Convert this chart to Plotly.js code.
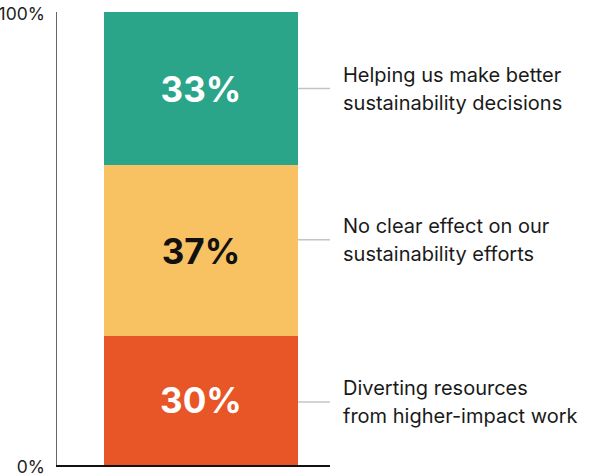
<!DOCTYPE html>
<html>
<head>
<meta charset="utf-8">
<script src="https://cdn.plot.ly/plotly-3.0.1.min.js"></script>
<style>html,body{margin:0;padding:0;background:#fff;}#chart{width:593px;height:476px;}</style>
</head>
<body>
<div id="chart"></div>
<script>
// Segments, bottom to top
const categories = ["Diverting resources from higher-impact work", "No clear effect on our sustainability efforts", "Helping us make better sustainability decisions"];
const values = [28.5, 37.7, 33.8];
const valueLabels = ["30%", "37%", "33%"];
const calloutLines = [["Diverting resources", "from higher-impact work"], ["No clear effect on our", "sustainability efforts"], ["Helping us make better", "sustainability decisions"]];
const calloutY = [13.9, 49.7, 83.1];
const colors = ["#e85627", "#f8c162", "#2ba58a"];
const textColors = ["#ffffff", "#111111", "#ffffff"];
const yTickVals = [0, 100];
const yTickText = ["0%", "100%"];

const FONT = "Inter, 'Noto Sans', sans-serif";
const xRange = [-0.742, 0.665];

const traces = values.map((v, i) => ({
  type: "bar",
  x: [0],
  y: [v],
  width: 1,
  name: categories[i],
  marker: {color: colors[i], line: {width: 0}},
  text: [valueLabels[i]],
  textposition: "inside",
  insidetextanchor: "middle",
  textangle: 0,
  textfont: {family: FONT, size: 35, color: textColors[i], weight: 700},
  hoverinfo: "skip"
}));

const shapes = calloutY.map(y => ({
  type: "line", xref: "x", yref: "y",
  x0: 0.5, x1: xRange[1], y0: y, y1: y,
  line: {color: "#c4c4c4", width: 1.5}
}));

const annotations = [];
calloutLines.forEach((lines, i) => {
  lines.forEach((t, j) => {
    annotations.push({
      xref: "paper", yref: "y", x: 1.04, y: calloutY[i],
      xanchor: "left", yanchor: "middle",
      yshift: ((lines.length - 1) / 2 - j) * 28,
      text: t, showarrow: false,
      font: {family: FONT, size: 20, color: "#1a1a1a"}
    });
  });
});

const layout = {
  width: 593, height: 476,
  margin: {l: 57, r: 263, t: 12, b: 11},
  paper_bgcolor: "#fff", plot_bgcolor: "#fff",
  barmode: "stack",
  showlegend: false,
  xaxis: {range: xRange, showticklabels: false, showgrid: false, zeroline: false,
          showline: true, linecolor: "#111", linewidth: 1.8, ticks: "", fixedrange: true},
  yaxis: {range: [0, 100], tickvals: yTickVals, ticktext: yTickText, showgrid: false, zeroline: false,
          showline: true, linecolor: "#666", linewidth: 1.5, ticks: "", ticklabelstandoff: 7,
          ticklabelshift: 2, ticklabeloverflow: "allow",
          tickfont: {family: FONT, size: 17.5, color: "#222"}, fixedrange: true},
  shapes: shapes,
  annotations: annotations
};

Plotly.newPlot("chart", traces, layout, {displayModeBar: false, staticPlot: true});
</script>
</body>
</html>
